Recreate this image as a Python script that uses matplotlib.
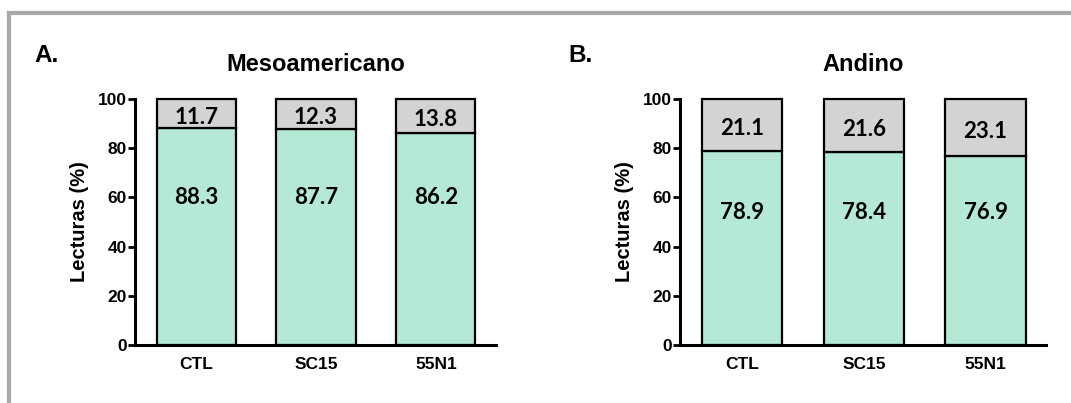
import matplotlib
matplotlib.use("Agg")
import matplotlib.pyplot as plt
from matplotlib.lines import Line2D

# datos
categorias = ["CTL", "SC15", "55N1"]
meso_verde = [88.3, 87.7, 86.2]
meso_gris = [11.7, 12.3, 13.8]
andino_verde = [78.9, 78.4, 76.9]
andino_gris = [21.1, 21.6, 23.1]

VERDE = "#b5e9d6"
GRIS = "#d3d3d3"
NUM_FONT = ["Lato", "DejaVu Sans"]
AX_FONT = ["Liberation Sans", "DejaVu Sans"]

fig = plt.figure(figsize=(10.71, 4.03), dpi=100)


def panel(rect, verde, gris, titulo, letra, letra_x, y_verde):
    ax = fig.add_axes(rect)
    x = range(len(categorias))
    b1 = ax.bar(x, verde, width=0.66, color=VERDE, edgecolor="black", linewidth=1.6, zorder=2)
    b2 = ax.bar(x, gris, bottom=verde, width=0.66, color=GRIS, edgecolor="black",
                linewidth=1.6, zorder=2)
    for p in list(b1) + list(b2):
        p.set_clip_on(False)
    for i, (v, g) in enumerate(zip(verde, gris)):
        ax.text(i, v + g / 2 - 1.5, f"{g:.1f}", ha="center", va="center",
                fontsize=16, fontweight="bold", family=NUM_FONT)
        ax.text(i, y_verde, f"{v:.1f}", ha="center", va="center",
                fontsize=16, fontweight="bold", family=NUM_FONT)

    ax.set_xlim(-0.51, 2.5)
    ax.set_ylim(0, 100)
    ax.set_yticks([0, 20, 40, 60, 80, 100])
    ax.set_xticks(list(x))
    ax.set_xticklabels(categorias)
    for lbl in ax.get_xticklabels() + ax.get_yticklabels():
        lbl.set_fontfamily(AX_FONT)
        lbl.set_fontweight("bold")
        lbl.set_fontsize(12.5)
    ax.tick_params(axis="x", length=0, pad=9)
    ax.tick_params(axis="y", length=5, width=2, pad=1)
    for s in ["top", "right"]:
        ax.spines[s].set_visible(False)
    for s in ["left", "bottom"]:
        ax.spines[s].set_linewidth(2.2)
    ax.set_ylabel("Lecturas (%)", fontsize=14.5, fontweight="bold", family=AX_FONT, labelpad=6)
    ax.set_title(titulo, fontsize=17, fontweight="bold", family=AX_FONT, pad=20)
    fig.text(letra_x, 0.862, letra, fontsize=17.5, fontweight="bold", family=AX_FONT,
             ha="left", va="center")
    return ax


panel([0.126, 0.144, 0.337, 0.610], meso_verde, meso_gris, "Mesoamericano", "A.", 0.032, 60)
panel([0.635, 0.144, 0.342, 0.610], andino_verde, andino_gris, "Andino", "B.", 0.531, 54)

# marco gris
fig.add_artist(Line2D([0.0085, 1.0], [1 - 12.5 / 403, 1 - 12.5 / 403], transform=fig.transFigure,
                      color="#a9a9a9", linewidth=3))
fig.add_artist(Line2D([0.0085, 0.0085], [0.0, 1 - 12.5 / 403], transform=fig.transFigure,
                      color="#a9a9a9", linewidth=3))

fig.savefig("out.png", dpi=100, facecolor="white")
